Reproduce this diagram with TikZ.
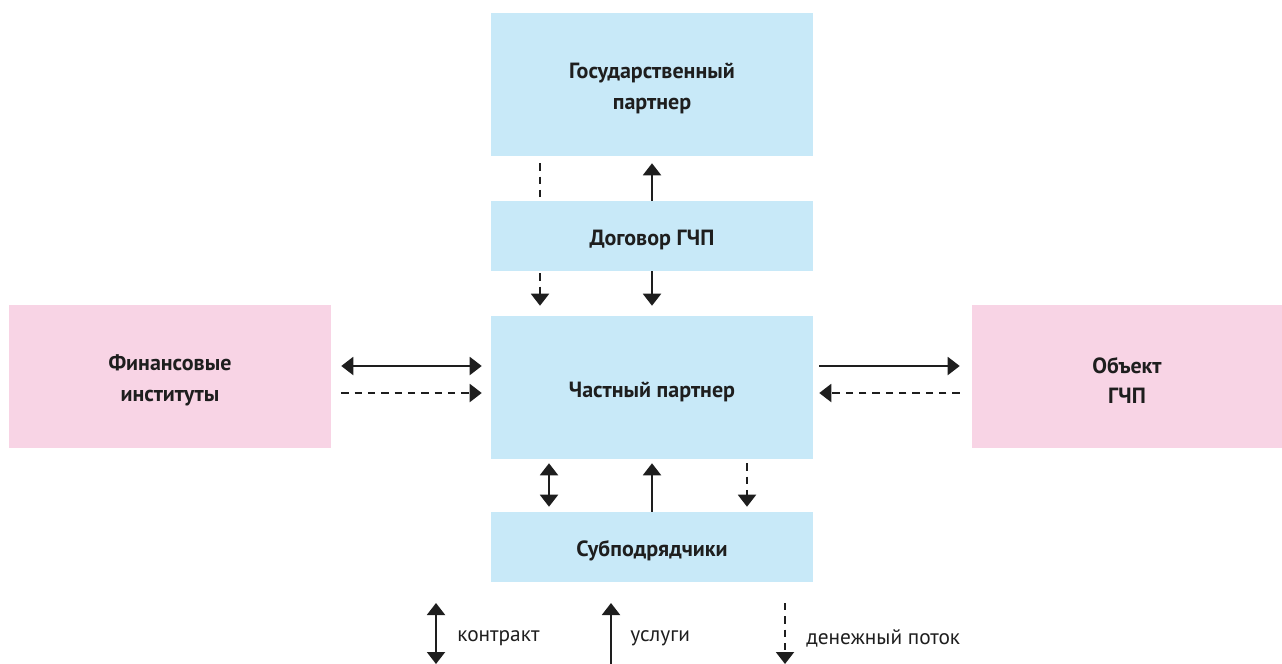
\documentclass[tikz,border=0pt]{standalone}
\usepackage{fontspec}
\setmainfont{PT Sans}
\usetikzlibrary{arrows.meta,calc}
\definecolor{boxblue}{HTML}{C8E9F8}
\definecolor{boxpink}{HTML}{F8D4E5}
\definecolor{ink}{HTML}{1E1E1E}
\tikzset{
  boxtext/.style={align=center, font=\fontsize{16.5}{23}\selectfont\bfseries, text=ink, inner sep=0pt, yshift=-3pt},
  blockbox/.style={fill=boxblue, draw=none, minimum width=241.5pt, inner sep=0pt},
  pinkbox/.style={fill=boxpink, draw=none, minimum width=241.5pt, minimum height=107.25pt, inner sep=0pt},
  conn/.style={draw=ink, line width=1.5pt},
  tipend/.style={-{Triangle[width=13.5pt,length=9pt]}},
  tipboth/.style={{Triangle[width=13.5pt,length=9pt]}-{Triangle[width=13.5pt,length=9pt]}},
  money/.style={conn, dash pattern=on 5.5pt off 4.5pt},
  legendtext/.style={font=\fontsize{16}{19}\selectfont, text=ink, anchor=west, inner sep=0pt}
}
\begin{document}
\begin{tikzpicture}[x=0.75pt,y=-0.75pt]
\useasboundingbox (0,0) rectangle (1282,664);
% boxes
\node[blockbox, minimum height=107.25pt, label={[boxtext]center:Государственный\\партнер}] (gp) at (652,84.5) {};
\node[blockbox, minimum height=52.5pt, label={[boxtext]center:Договор ГЧП}] (dog) at (652,236) {};
\node[blockbox, minimum height=107.25pt, label={[boxtext]center:Частный партнер}] (chp) at (652,387.5) {};
\node[blockbox, minimum height=52.5pt, label={[boxtext]center:Субподрядчики}] (sub) at (652,547) {};
\node[pinkbox, label={[boxtext]center:Финансовые\\институты}] (fin) at (170,376.5) {};
\node[pinkbox, minimum width=232.5pt, label={[boxtext]center:Объект\\ГЧП}] (obj) at (1127,376.5) {};
% gp <-> dog
\draw[money] ($(gp.south)+(-112,7)$) -- ($(dog.north)+(-112,-3)$);
\draw[conn, tipend] (dog.north) -- ($(gp.south)+(0,7)$);
% dog -> chp
\draw[money, tipend] ($(dog.south)+(-112,2)$) -- ($(chp.north)+(-112,-10)$);
\draw[conn, tipend] (dog.south) -- ($(chp.north)+(0,-10)$);
% fin <-> chp
\draw[conn, tipboth] ($(fin.east)+(10,-10.5)$) -- ($(chp.west)+(-9,-21.5)$);
\draw[money, tipend] ($(fin.east)+(10,16.5)$) -- ($(chp.west)+(-9,5.5)$);
% chp <-> obj
\draw[conn, tipend] ($(chp.east)+(6,-21.5)$) -- ($(obj.west)+(-12,-10.5)$);
\draw[money, tipend] ($(obj.west)+(-12,16.5)$) -- ($(chp.east)+(6,5.5)$);
% chp <-> sub
\draw[conn, tipboth] ($(chp.south)+(-103,4)$) -- ($(sub.north)+(-103,-5)$);
\draw[conn, tipend] (sub.north) -- ($(chp.south)+(0,4)$);
\draw[money, tipend] ($(chp.south)+(95,4)$) -- ($(sub.north)+(95,-5)$);
% legend
\coordinate (l1t) at (436,603); \coordinate (l1b) at (436,664);
\coordinate (l2t) at (611,603); \coordinate (l2b) at (611,664);
\coordinate (l3t) at (785,603); \coordinate (l3b) at (785,664);
\draw[conn, tipboth] (l1t) -- (l1b);
\draw[conn, tipend] (l2b) -- (l2t);
\draw[money, tipend] (l3t) -- (l3b);
\node[legendtext] (t1) at (457,638) {контракт};
\node[legendtext] (t2) at (630,638) {услуги};
\node[legendtext] (t3) at (806,638) {денежный поток};
\end{tikzpicture}
\end{document}
